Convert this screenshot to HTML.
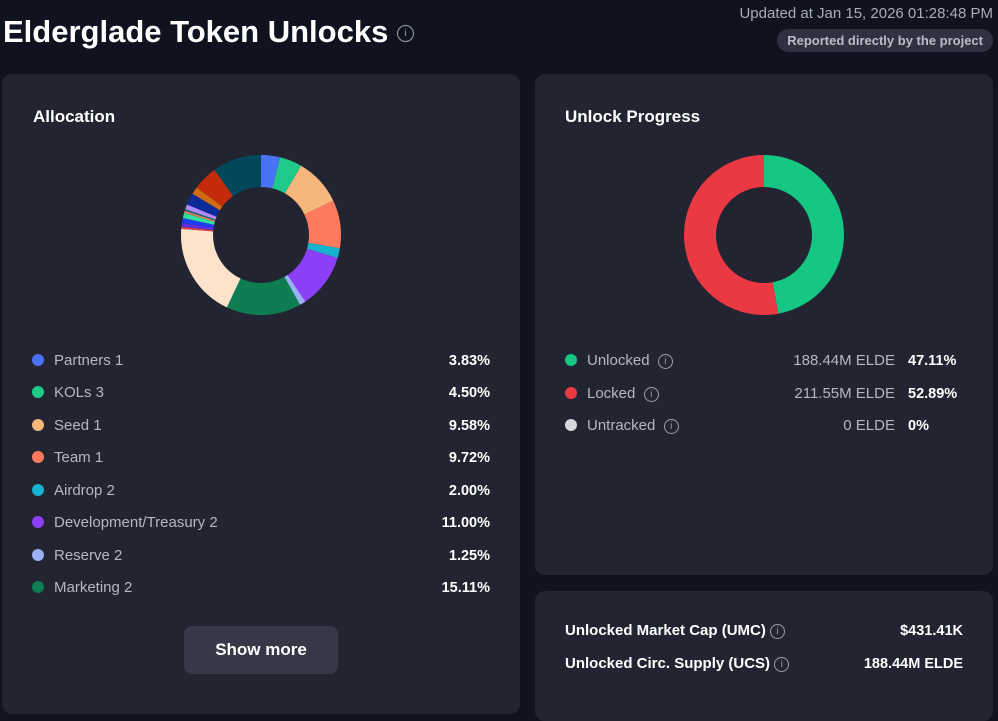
<!DOCTYPE html>
<html><head><meta charset="utf-8"><style>
body{margin:0;width:998px;height:701px;background:#0e131f;font-family:"Liberation Sans",sans-serif;color:#fff;overflow:hidden;position:relative}
.t{position:absolute;left:3px;top:14px;font-size:31px;font-weight:bold;letter-spacing:0}
.ic{display:inline-block;width:13px;height:13px;border:1.3px solid #9aa0ad;border-radius:50%;font-size:10px;line-height:13px;text-align:center;color:#9aa0ad;font-weight:normal;vertical-align:middle;font-style:normal}
.upd{position:absolute;right:5px;top:5px;font-size:15px;color:#a8adb8}
.badge{position:absolute;right:5px;top:29px;background:#2e3240;border-radius:12px;padding:4px 10px;font-size:13px;font-weight:bold;color:#b9bdc7}
.card{position:absolute;background:#222431;border-radius:10px}
h3{position:absolute;margin:0;font-size:17px;font-weight:bold}
.row{position:absolute;font-size:15px;color:#b4b8c2;height:20px;line-height:20px}
.dot{display:inline-block;width:12px;height:12px;border-radius:50%;vertical-align:-1px;margin-right:10px}
.v{position:absolute;right:0;top:0;color:#fff;font-weight:bold;font-size:14.5px}
.amt{position:absolute;right:67px;top:0}
.pv{position:absolute;left:343px;top:0;color:#fff;font-weight:bold;font-size:14.5px}
.btn{position:absolute;left:182px;top:552px;width:154px;height:48px;background:#353847;border-radius:8px;text-align:center;line-height:48px;font-size:17px;font-weight:bold}
</style></head><body>
<div class="t">Elderglade Token Unlocks <span class="ic" style="width:15px;height:15px;line-height:15px">i</span></div>
<div class="upd">Updated at Jan 15, 2026 01:28:48 PM</div>
<div class="badge">Reported directly by the project</div>

<div class="card" style="left:2px;top:74px;width:518px;height:640px">
<h3 style="left:31px;top:33px">Allocation</h3>
<svg id="a" style="position:absolute;left:179px;top:81px" width="160" height="160"></svg>
<div class="row" style="left:30px;top:277px;width:458px"><span class="dot" style="background:#4a72f5"></span>Partners 1<span class="v">3.83%</span></div>
<div class="row" style="left:30px;top:309px;width:458px"><span class="dot" style="background:#1ec98a"></span>KOLs 3<span class="v">4.50%</span></div>
<div class="row" style="left:30px;top:342px;width:458px"><span class="dot" style="background:#f5b77c"></span>Seed 1<span class="v">9.58%</span></div>
<div class="row" style="left:30px;top:374px;width:458px"><span class="dot" style="background:#ff7a5c"></span>Team 1<span class="v">9.72%</span></div>
<div class="row" style="left:30px;top:407px;width:458px"><span class="dot" style="background:#16b3cf"></span>Airdrop 2<span class="v">2.00%</span></div>
<div class="row" style="left:30px;top:439px;width:458px"><span class="dot" style="background:#8b3ff7"></span>Development/Treasury 2<span class="v">11.00%</span></div>
<div class="row" style="left:30px;top:472px;width:458px"><span class="dot" style="background:#9bb0f5"></span>Reserve 2<span class="v">1.25%</span></div>
<div class="row" style="left:30px;top:504px;width:458px"><span class="dot" style="background:#0e7d52"></span>Marketing 2<span class="v">15.11%</span></div>
<div class="btn">Show more</div>
</div>

<div class="card" style="left:535px;top:74px;width:458px;height:501px">
<h3 style="left:30px;top:33px">Unlock Progress</h3>
<svg id="u" style="position:absolute;left:149px;top:81px" width="160" height="160"></svg>
<div class="row" style="left:30px;top:277px;width:397px"><span class="dot" style="background:#16c784"></span>Unlocked &nbsp;<span class="ic">i</span><span class="amt">188.44M ELDE</span><span class="pv">47.11%</span></div>
<div class="row" style="left:30px;top:310px;width:397px"><span class="dot" style="background:#ea3943"></span>Locked &nbsp;<span class="ic">i</span><span class="amt">211.55M ELDE</span><span class="pv">52.89%</span></div>
<div class="row" style="left:30px;top:342px;width:397px"><span class="dot" style="background:#d5d8de"></span>Untracked &nbsp;<span class="ic">i</span><span class="amt">0 ELDE</span><span class="pv">0%</span></div>
</div>

<div class="card" style="left:535px;top:591px;width:458px;height:130px">
<div class="row" style="left:30px;top:30px;width:398px;color:#fff;font-weight:bold">Unlocked Market Cap (UMC) <span class="ic">i</span><span class="v">$431.41K</span></div>
<div class="row" style="left:30px;top:63px;width:398px;color:#fff;font-weight:bold">Unlocked Circ. Supply (UCS) <span class="ic">i</span><span class="v">188.44M ELDE</span></div>
</div>

<script>
function donut(id,data){
 var s=document.getElementById(id),C=2*Math.PI*64,acc=0,h='';
 data.forEach(function(d){
  var len=d[0]/100*C;
  h+='<circle cx="80" cy="80" r="64" fill="none" stroke="'+d[1]+'" stroke-width="32" stroke-dasharray="'+len+' '+(C-len)+'" stroke-dashoffset="'+(-acc)+'" transform="rotate(-90 80 80)"/>';
  acc+=len;
 });
 s.innerHTML=h;
}
donut('a',[[3.83,'#4a72f5'],[4.5,'#1ec98a'],[9.58,'#f5b77c'],[9.72,'#ff7a5c'],[2,'#16b3cf'],[11,'#8b3ff7'],[1.25,'#9bb0f5'],[15.11,'#0e7d52'],[19.2,'#fde3cc'],[0.4,'#e0443a'],[0.8,'#5a2ee0'],[1,'#1e3cf0'],[1,'#2fe0a0'],[0.5,'#d08060'],[0.3,'#0a6070'],[1,'#b08af5'],[2.4,'#0a2a99'],[1.5,'#d06b14'],[5,'#c42b0a'],[9.91,'#01495a']]);
donut('u',[[47.11,'#16c784'],[52.89,'#ea3943']]);
</script>
</body></html>
